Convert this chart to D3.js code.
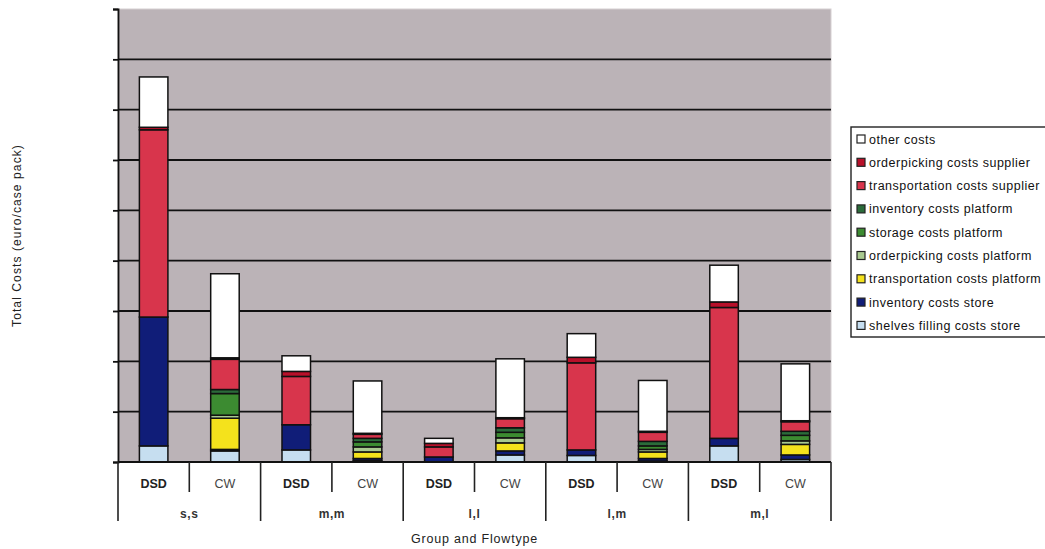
<!DOCTYPE html>
<html>
<head>
<meta charset="utf-8">
<script src="https://cdn.jsdelivr.net/npm/d3@7"></script>
<style>
  html, body { margin: 0; padding: 0; background: #ffffff; }
  svg { display: block; font-family: "Liberation Sans", Arial, sans-serif; }
</style>
</head>
<body>
<svg id="chart" width="1045" height="549"></svg>
<script>
// Groups and flow types along the category axis
const groups = ["s,s", "m,m", "l,l", "l,m", "m,l"];
const flowTypes = ["DSD", "CW"];

// Cost components, stacked from the bottom up (euro per case pack)
const shelvesFillingStore   = [0.32, 0.22, 0.24, 0.03, 0.00, 0.14, 0.13, 0.02, 0.32, 0.05];
const inventoryStore        = [2.56, 0.03, 0.50, 0.04, 0.10, 0.08, 0.11, 0.05, 0.15, 0.09];
const transportPlatform     = [0.00, 0.62, 0.00, 0.13, 0.00, 0.16, 0.00, 0.13, 0.00, 0.21];
const orderpickingPlatform  = [0.00, 0.06, 0.00, 0.10, 0.00, 0.10, 0.00, 0.05, 0.00, 0.07];
const storagePlatform       = [0.00, 0.43, 0.00, 0.10, 0.00, 0.11, 0.00, 0.07, 0.00, 0.11];
const inventoryPlatform     = [0.00, 0.08, 0.00, 0.07, 0.00, 0.09, 0.00, 0.09, 0.00, 0.08];
const transportSupplier     = [3.72, 0.60, 0.96, 0.08, 0.20, 0.18, 1.73, 0.18, 2.60, 0.19];
const orderpickingSupplier  = [0.05, 0.03, 0.10, 0.02, 0.07, 0.02, 0.11, 0.02, 0.11, 0.02];
const otherCosts            = [1.00, 1.67, 0.31, 1.04, 0.10, 1.17, 0.47, 1.01, 0.73, 1.13];

const seriesNames = [
  "shelves filling costs store",
  "inventory costs store",
  "transportation costs platform",
  "orderpicking costs platform",
  "storage costs platform",
  "inventory costs platform",
  "transportation costs supplier",
  "orderpicking costs supplier",
  "other costs"
];
const seriesValues = [
  shelvesFillingStore, inventoryStore, transportPlatform, orderpickingPlatform,
  storagePlatform, inventoryPlatform, transportSupplier, orderpickingSupplier, otherCosts
];
const seriesColors = [
  "#c6def0", "#101d78", "#f4e21c", "#a9c98f", "#3c8b31",
  "#2b6b3a", "#d8354c", "#b8102a", "#ffffff"
];
const yTicks = [0, 1, 2, 3, 4, 5, 6, 7, 8, 9];

// Build one row per bar
const barKeys = [];
groups.forEach(g => flowTypes.forEach(f => barKeys.push(g + "|" + f)));
const rows = barKeys.map((k, i) => {
  const r = { key: k };
  seriesNames.forEach((s, j) => { r[s] = seriesValues[j][i]; });
  return r;
});
const stacked = d3.stack().keys(seriesNames)(rows);

const svg = d3.select("#chart");
const plot = { left: 118, right: 831, top: 9, bottom: 462 };

const x = d3.scaleBand().domain(barKeys).range([plot.left, plot.right]).paddingInner(0.6).paddingOuter(0.3);
const slot = d3.scaleBand().domain(barKeys).range([plot.left, plot.right]);
const groupScale = d3.scaleBand().domain(groups).range([plot.left, plot.right]);
const y = d3.scaleLinear().domain([0, 9]).range([plot.bottom, plot.top]);

// Plot background
svg.append("rect")
  .attr("x", plot.left).attr("y", plot.top)
  .attr("width", plot.right - plot.left).attr("height", plot.bottom - plot.top)
  .attr("fill", "#bbb3b7").attr("stroke", "#d6d0d2").attr("stroke-width", 1);

// Horizontal gridlines
svg.append("g")
  .selectAll("line")
  .data(yTicks.filter(t => t > 0 && t < 9))
  .join("line")
  .attr("x1", plot.left).attr("x2", plot.right)
  .attr("y1", d => y(d)).attr("y2", d => y(d))
  .attr("stroke", "#111111").attr("stroke-width", 1.8);

// Value axis: tick marks only, no labels
const yAxis = svg.append("g")
  .attr("transform", `translate(${plot.left},0)`)
  .call(d3.axisLeft(y).tickValues(yTicks).tickSize(5).tickFormat(""));
yAxis.select(".domain").attr("stroke", "#111111").attr("stroke-width", 1.8);
yAxis.selectAll(".tick line").attr("stroke", "#111111").attr("stroke-width", 1.8);

// Stacked bars
svg.append("g")
  .selectAll("g")
  .data(stacked)
  .join("g")
  .attr("fill", (d, i) => seriesColors[i])
  .selectAll("rect")
  .data(d => d.filter(p => p[1] - p[0] > 0))
  .join("rect")
  .attr("x", d => x(d.data.key))
  .attr("width", x.bandwidth())
  .attr("y", d => y(d[1]))
  .attr("height", d => y(d[0]) - y(d[1]))
  .attr("stroke", "#111111")
  .attr("stroke-width", 1.5);

// Baseline
svg.append("line")
  .attr("x1", plot.left).attr("x2", plot.right)
  .attr("y1", plot.bottom).attr("y2", plot.bottom)
  .attr("stroke", "#111111").attr("stroke-width", 2);

// Two-level category axis
const catAxis = svg.append("g");
const innerBottom = 492, outerBottom = 521;
// separators between DSD and CW inside each group
catAxis.selectAll("line.inner")
  .data(groups)
  .join("line")
  .attr("class", "inner")
  .attr("x1", g => slot(g + "|CW")).attr("x2", g => slot(g + "|CW"))
  .attr("y1", plot.bottom).attr("y2", innerBottom)
  .attr("stroke", "#222").attr("stroke-width", 1.6);
// separators between groups, including both ends
const groupEdges = groups.map(g => groupScale(g)).concat([plot.right]);
catAxis.selectAll("line.outer")
  .data(groupEdges)
  .join("line")
  .attr("class", "outer")
  .attr("x1", d => d).attr("x2", d => d)
  .attr("y1", plot.bottom).attr("y2", outerBottom)
  .attr("stroke", "#222").attr("stroke-width", 1.6);
// flow type labels
catAxis.selectAll("text.flow")
  .data(barKeys)
  .join("text")
  .attr("class", "flow")
  .attr("x", k => slot(k) + slot.bandwidth() / 2)
  .attr("y", 488)
  .attr("text-anchor", "middle")
  .attr("font-size", 12.5)
  .attr("font-weight", k => k.endsWith("DSD") ? "bold" : "normal")
  .attr("fill", k => k.endsWith("DSD") ? "#222" : "#444")
  .text(k => k.split("|")[1]);
// group labels
catAxis.selectAll("text.group")
  .data(groups)
  .join("text")
  .attr("class", "group")
  .attr("x", g => groupScale(g) + groupScale.bandwidth() / 2)
  .attr("y", 518)
  .attr("text-anchor", "middle")
  .attr("font-size", 12)
  .attr("font-weight", "bold")
  .attr("letter-spacing", 0.6)
  .attr("fill", "#333")
  .text(g => g);

// Axis titles
svg.append("text")
  .attr("x", (plot.left + plot.right) / 2)
  .attr("y", 543)
  .attr("text-anchor", "middle")
  .attr("font-size", 12.5)
  .attr("letter-spacing", 0.8)
  .attr("fill", "#222")
  .text("Group and Flowtype");
svg.append("text")
  .attr("transform", `translate(21,${(plot.top + plot.bottom) / 2}) rotate(-90)`)
  .attr("text-anchor", "middle")
  .attr("font-size", 12)
  .attr("letter-spacing", 1.1)
  .attr("fill", "#222")
  .text("Total Costs (euro/case pack)");

// Legend, listed top-down in reverse stacking order
const legend = svg.append("g").attr("transform", "translate(851,127)");
legend.append("rect")
  .attr("x", 0).attr("y", 0).attr("width", 200).attr("height", 210)
  .attr("fill", "#ffffff").attr("stroke", "#222").attr("stroke-width", 1.4);
const legendItems = seriesNames.map((n, i) => ({ name: n, color: seriesColors[i] })).reverse();
const li = legend.selectAll("g.item")
  .data(legendItems)
  .join("g")
  .attr("class", "item")
  .attr("transform", (d, i) => `translate(6,${12 + i * 23.3})`);
li.append("rect")
  .attr("x", 0).attr("y", -4).attr("width", 8).attr("height", 8)
  .attr("fill", d => d.color).attr("stroke", "#222").attr("stroke-width", 1.2);
li.append("text")
  .attr("x", 12).attr("y", 4.5)
  .attr("font-size", 12.5)
  .attr("letter-spacing", 0.5)
  .attr("fill", "#111")
  .text(d => d.name);
</script>
</body>
</html>
